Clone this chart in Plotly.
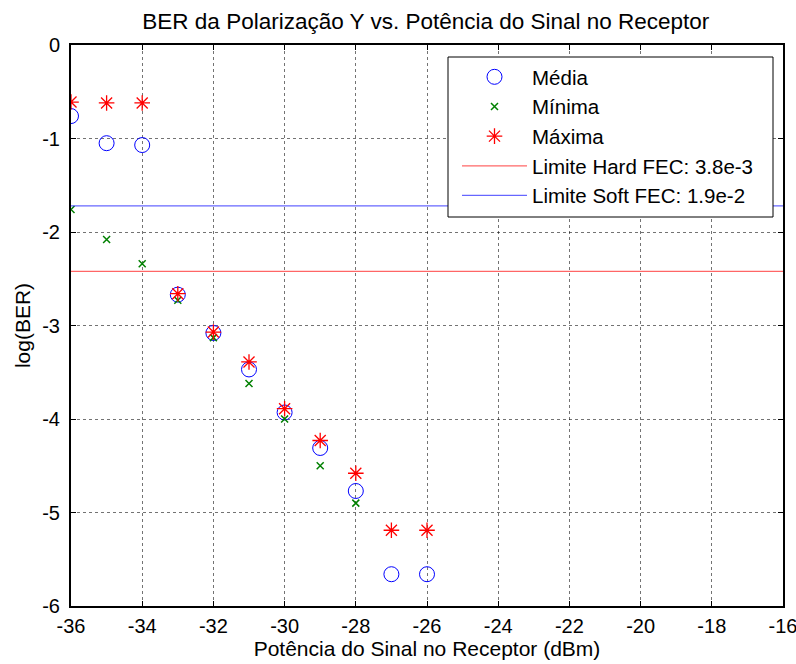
import numpy as np
import plotly.graph_objects as go

x_all = [-36, -35, -34, -33, -32, -31, -30, -29, -28, -27, -26]
media = [-0.76, -1.05, -1.07, -2.67, -3.08, -3.47, -3.93, -4.31, -4.77, -5.66, -5.66]
x_min = [-36, -35, -34, -33, -32, -31, -30, -29, -28]
minima = [-1.76, -2.08, -2.34, -2.73, -3.13, -3.62, -4.00, -4.50, -4.90]
maxima = [-0.61, -0.62, -0.62, -2.66, -3.07, -3.39, -3.89, -4.23, -4.58, -5.19, -5.19]
hard_fec = 3.8e-3
soft_fec = 1.9e-2
x_range = [-36, -16]
y_range = [-6, 0]
x_ticks = list(range(-36, -15, 2))
y_ticks = list(range(-6, 1, 1))

FONT = "Liberation Sans, Arial, sans-serif"

# plot area in px (for paper-coordinate placement of legend box)
L, R, T, B = 71, 13, 45, 58
W, H = 796, 664
PW, PH = W - L - R, H - T - B


def px_to_paper_x(px):
    return (px - L) / PW


def px_to_paper_y(py):
    return (H - B - py) / PH


fig = go.Figure()
fig.add_trace(go.Scatter(x=x_all, y=media, mode="markers", name="Média",
                         marker=dict(symbol="circle-open", size=15, color="#0000ff",
                                     line=dict(width=1))))
fig.add_trace(go.Scatter(x=x_min, y=minima, mode="markers", name="Mínima",
                         marker=dict(symbol="x-thin-open", size=7, color="#008000",
                                     line=dict(width=1.5, color="#008000"))))
fig.add_trace(go.Scatter(x=x_all, y=maxima, mode="markers", name="Máxima",
                         marker=dict(symbol="asterisk-open", size=13, color="#ff0000",
                                     line=dict(width=1.3, color="#ff0000"))))
fig.add_trace(go.Scatter(x=x_range, y=[np.log10(hard_fec)] * 2, mode="lines",
                         name="Limite Hard FEC: 3.8e-3",
                         line=dict(color="rgba(255,0,0,0.6)", width=1.2)))
fig.add_trace(go.Scatter(x=x_range, y=[np.log10(soft_fec)] * 2, mode="lines",
                         name="Limite Soft FEC: 1.9e-2",
                         line=dict(color="rgba(0,0,255,0.6)", width=1.2)))

axis_common = dict(showline=True, linecolor="black", linewidth=2, mirror="ticks",
                   ticks="inside", ticklen=5, tickcolor="black",
                   showgrid=True, gridcolor="rgba(0,0,0,0.55)", griddash="dot",
                   gridwidth=1, zeroline=False, ticklabeloverflow="allow",
                   automargin=False,
                   tickfont=dict(family=FONT, size=20, color="black"))

fig.update_xaxes(range=x_range, tickvals=x_ticks, ticktext=[str(v) for v in x_ticks],
                 **axis_common, ticklabelstandoff=1,
                 title=dict(text="Potência do Sinal no Receptor (dBm)",
                            font=dict(family=FONT, size=21, color="black"), standoff=4))
fig.update_yaxes(range=y_range, tickvals=y_ticks, ticktext=[str(v) for v in y_ticks],
                 **axis_common, ticklabelstandoff=5,
                 title=dict(text="log(BER)",
                            font=dict(family=FONT, size=21, color="black"), standoff=6))

# legend box (drawn as a shape so its size matches the reference)
fig.add_shape(type="rect", xref="paper", yref="paper",
              x0=px_to_paper_x(448), x1=px_to_paper_x(773),
              y0=px_to_paper_y(217), y1=px_to_paper_y(57),
              fillcolor="white", line=dict(color="black", width=1), layer="above")

fig.update_layout(
    width=W, height=H,
    margin=dict(l=L, r=R, t=T, b=B),
    paper_bgcolor="white", plot_bgcolor="white",
    title=dict(text="BER da Polarização Y vs. Potência do Sinal no Receptor",
               x=0.535, xanchor="center", y=0.968, yanchor="middle",
               font=dict(family=FONT, size=22.5, color="black")),
    legend=dict(x=px_to_paper_x(457), y=px_to_paper_y(57), xanchor="left", yanchor="top",
                bgcolor="rgba(0,0,0,0)", borderwidth=0,
                itemwidth=65, font=dict(family=FONT, size=20.5, color="black")),
    showlegend=True,
)

fig.write_html("out.html")
